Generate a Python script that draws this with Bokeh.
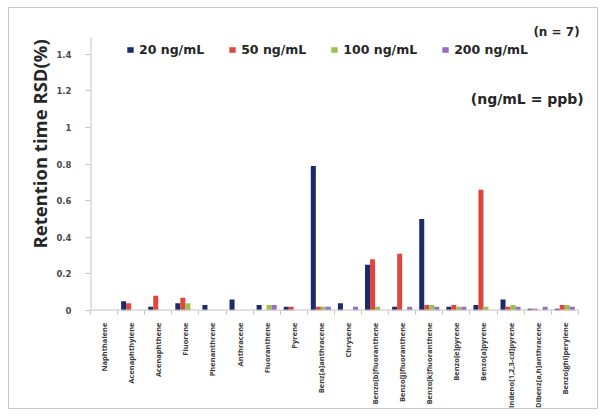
import math

import numpy as np
from bokeh.embed import file_html
from bokeh.models import (FixedTicker, Label, Legend, LegendItem, Range1d,
                          Title)
from bokeh.plotting import figure
from bokeh.resources import INLINE

# Retention-time RSD (%) of 18 PAHs at four spiking levels (n = 7)
compounds = [
    "Naphthalene", "Acenaphthylene", "Acenaphthene", "Fluorene",
    "Phenanthrene", "Anthracene", "Fluoranthene", "Pyrene",
    "Benz[a]anthracene", "Chrysene", "Benzo[b]fluoranthene",
    "Benzo[j]fluoranthene", "Benzo[k]fluoranthene", "Benzo[e]pyrene",
    "Benzo[a]pyrene", "Indeno[1,2,3-cd]pyrene", "Dibenz[a,h]anthracene",
    "Benzo[ghi]perylene",
]
rsd_20 = [0.0, 0.05, 0.02, 0.04, 0.03, 0.06, 0.03, 0.02, 0.79, 0.04,
          0.25, 0.02, 0.50, 0.02, 0.03, 0.06, 0.01, 0.01]
rsd_50 = [0.0, 0.04, 0.08, 0.07, 0.0, 0.0, 0.0, 0.02, 0.02, 0.0,
          0.28, 0.31, 0.03, 0.03, 0.66, 0.02, 0.01, 0.03]
rsd_100 = [0.0, 0.0, 0.0, 0.04, 0.0, 0.0, 0.03, 0.0, 0.02, 0.0,
           0.02, 0.0, 0.03, 0.02, 0.02, 0.03, 0.0, 0.03]
rsd_200 = [0.0, 0.0, 0.0, 0.0, 0.0, 0.0, 0.03, 0.0, 0.02, 0.02,
           0.0, 0.02, 0.02, 0.02, 0.0, 0.02, 0.02, 0.02]
series = [rsd_20, rsd_50, rsd_100, rsd_200]
series_names = ["20 ng/mL", "50 ng/mL", "100 ng/mL", "200 ng/mL"]
y_ticks = [0, 0.2, 0.4, 0.6, 0.8, 1.0, 1.2, 1.4]
y_tick_labels = ["0", "0.2", "0.4", "0.6", "0.8", "1", "1.2", "1.4"]

colors = ["#1c2a68", "#e0463e", "#9cc04b", "#9a6cc0"]
axis_grey = "#c3c3c3"
text_dark = "#262626"

n_cat = len(compounds)
centers = np.arange(n_cat) + 0.5
boundaries = list(range(n_cat + 1))

p = figure(
    width=590, height=402,
    x_range=Range1d(0, 18.45),
    y_range=Range1d(0, 1.6116),
    output_backend="svg", toolbar_location=None,
    min_border_left=81, min_border_right=9,
    min_border_top=7, min_border_bottom=98,
)
p.styles = {"border": "1px solid #c8c8c8", "margin-left": "8px",
            "margin-top": "7px"}
p.outline_line_color = None
p.xgrid.grid_line_color = None
p.ygrid.grid_line_color = None
p.background_fill_color = "white"
p.border_fill_color = "white"

# grouped bars: four series side by side within each compound slot
bar_w = 0.185
offsets = [-1.5 * bar_w, -0.5 * bar_w, 0.5 * bar_w, 1.5 * bar_w]
items = []
for vals, off, col, name in zip(series, offsets, colors, series_names):
    r = p.vbar(x=centers + off, top=vals, width=bar_w,
               fill_color=col, line_color=None)
    items.append(LegendItem(label=name, renderers=[r]))

# axis lines limited to the data extent
p.segment(x0=[0], y0=[0], x1=[n_cat], y1=[0], line_color=axis_grey,
          line_width=2)
p.segment(x0=[0], y0=[0], x1=[0], y1=[1.49], line_color=axis_grey,
          line_width=2)

# y axis
yax = p.yaxis[0]
yax.ticker = FixedTicker(ticks=y_ticks)
yax.major_label_overrides = dict(zip(y_ticks, y_tick_labels))
yax.axis_line_color = None
yax.major_tick_line_color = axis_grey
yax.major_tick_out = 5
yax.major_tick_in = 0
yax.minor_tick_line_color = None
yax.major_label_standoff = 14
yax.major_label_text_font = "DejaVu Sans"
yax.major_label_text_font_style = "bold"
yax.major_label_text_font_size = "8.5px"
yax.major_label_text_color = "#4a4a4a"

# y axis title, placed along the left edge
p.add_layout(Title(text="Retention time RSD(%)", align="left", offset=62,
                   standoff=4, text_font="Open Sans",
                   text_font_style="bold", text_font_size="18.5px",
                   text_color=text_dark), "left")

# x axis: names at slot centres, short ticks at slot boundaries
xax = p.xaxis[0]
xax.ticker = FixedTicker(ticks=list(centers), minor_ticks=boundaries)
xax.major_label_overrides = dict(zip(centers.tolist(), compounds))
xax.axis_line_color = None
xax.major_tick_line_color = None
xax.minor_tick_line_color = axis_grey
xax.minor_tick_out = 4
xax.minor_tick_in = 0
xax.major_label_orientation = math.pi / 2
xax.major_label_standoff = 6
xax.major_label_text_font = "Open Sans"
xax.major_label_text_font_style = "bold"
xax.major_label_text_font_size = "7.5px"
xax.major_label_text_color = "#3a3a3a"

legend = Legend(items=items, orientation="horizontal", location=(36, 253),
                glyph_width=8, glyph_height=7, label_standoff=5, spacing=24,
                padding=0, margin=0, border_line_color=None,
                background_fill_alpha=0,
                label_text_font="DejaVu Sans",
                label_text_font_style="bold", label_text_font_size="12.5px",
                label_text_color=text_dark, label_height=10)
p.add_layout(legend, "center")

p.add_layout(Label(x=18.05, y=1.519, text="(n = 7)", text_align="right",
                   text_baseline="middle", text_font="DejaVu Sans",
                   text_font_style="bold", text_font_size="12px",
                   text_color=text_dark))
p.add_layout(Label(x=18.2, y=1.156, text="(ng/mL = ppb)",
                   text_align="right", text_baseline="middle",
                   text_font="DejaVu Sans", text_font_style="bold",
                   text_font_size="14px", text_color=text_dark))

open("out.html", "w").write(file_html(p, INLINE))
